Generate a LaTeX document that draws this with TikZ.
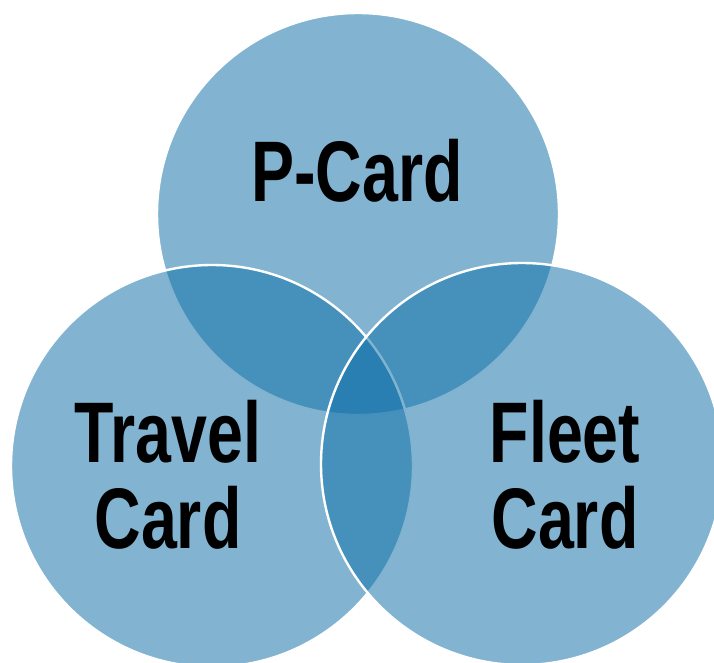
\documentclass[tikz,border=0pt]{standalone}
\usepackage{fontspec}
\newfontfamily\cardfont[FakeStretch=0.75]{Liberation Sans}
\usetikzlibrary{positioning}

\definecolor{cardblue}{RGB}{15,111,168}

\begin{document}
\begin{tikzpicture}[
  x=1pt, y=-1pt,
  ring/.style ={circle, minimum size=402pt, inner sep=0pt, fill=cardblue, fill opacity=0.52, draw=white, line width=2.4pt},
  lbl/.style  ={font=\cardfont\bfseries\fontsize{86}{86}\selectfont, text=black, align=center, inner sep=0pt},
]
\clip (0,0) rectangle (714,663);
\useasboundingbox (0,0) rectangle (714,663);

% ---------- three overlapping programme circles ----------
\node[ring] (pcard)  at (358,214) {};
\node[ring] (travel) at (212,466) {};
\node[ring] (fleet)  at (522,464) {};

% ---------- labels ----------
\node[lbl] (pcardtxt)  at (357,171) {P-Card};
\node[lbl] (traveltxt) at (168,475) {Travel\\Card};
\node[lbl] (fleettxt)  at (565,475) {Fleet\\Card};

\end{tikzpicture}
\end{document}
